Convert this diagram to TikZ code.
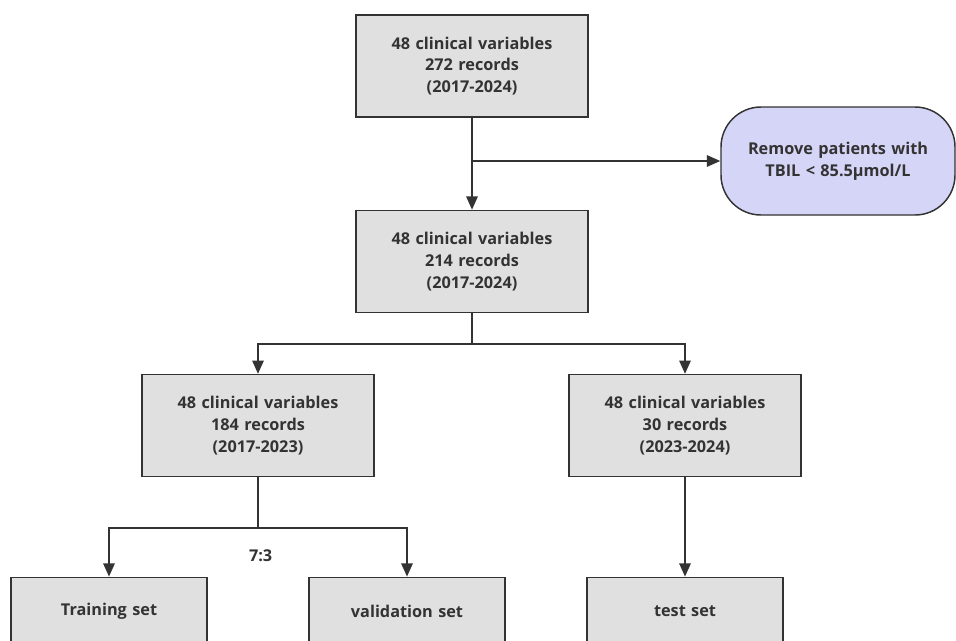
\documentclass[tikz,border=0pt]{standalone}
\usepackage{fontspec}
\setmainfont{Open Sans}
\usetikzlibrary{arrows.meta, positioning}
\definecolor{boxgray}{HTML}{E0E0E0}
\definecolor{edgegray}{HTML}{333333}
\definecolor{lavender}{HTML}{D5D5F7}

\begin{document}
\begin{tikzpicture}[x=0.75pt, y=0.75pt, auto]
    \tikzstyle{block} = [draw=edgegray, line width=1.1pt, rectangle, fill=boxgray, text=edgegray, text width=165pt, align=center, minimum width=174pt, minimum height=76.5pt, font=\bfseries\fontsize{12.2}{16.3}\selectfont]
    \tikzstyle{setblock} = [block, text width=135pt, minimum width=147pt, minimum height=51pt]
    \tikzstyle{removeblock} = [block, fill=lavender, rounded corners=30pt, minimum width=175.5pt, minimum height=81pt]
    \tikzstyle{line} = [draw=edgegray, line width=1.5pt, -{Triangle[length=10pt, width=8.5pt]}]
    \useasboundingbox (0,0) rectangle (956,-640);

    \node [block] (rec272) at (472,-66) {48 clinical variables\\272 records\\(2017-2024)};
    \node [removeblock] (remove) at (838,-161) {Remove patients with\\TBIL < 85.5µmol/L};
    \node [block, below=69pt of rec272] (rec214) {48 clinical variables\\214 records\\(2017-2024)};
    \node [block, below=45.5pt of rec214, xshift=-160.5pt] (rec184) {48 clinical variables\\184 records\\(2017-2023)};
    \node [block, below=45.5pt of rec214, xshift=159.75pt] (rec30) {48 clinical variables\\30 records\\(2023-2024)};

    % Split of the 2017-2023 records
    \node [setblock, below=74.5pt of rec184, xshift=-111.75pt, anchor=north] (train) {Training set};
    \node [setblock, below=74.5pt of rec184, xshift=111.75pt, anchor=north] (valid) {validation set};
    \node [setblock, below=74.5pt of rec30, anchor=north] (test) {test set};
    \node [font=\bfseries\fontsize{12.2}{14}\selectfont, text=edgegray] (ratio) at ([xshift=2pt, yshift=-59pt] rec184.south) {7:3};

    \coordinate (excl) at (rec272 |- remove);
    \draw [line] (rec272) -- (rec214);
    \draw [line] (excl) -- (remove);

    \draw [line] (rec214.south) -- ++(0,-31) -| (rec184.north);
    \draw [line] (rec214.south) -- ++(0,-31) -| (rec30.north);
    \draw [line] (rec184.south) -- ++(0,-51) -| (train.north);
    \draw [line] (rec184.south) -- ++(0,-51) -| (valid.north);
    \draw [line] (rec30) -- (test);
\end{tikzpicture}
\end{document}
